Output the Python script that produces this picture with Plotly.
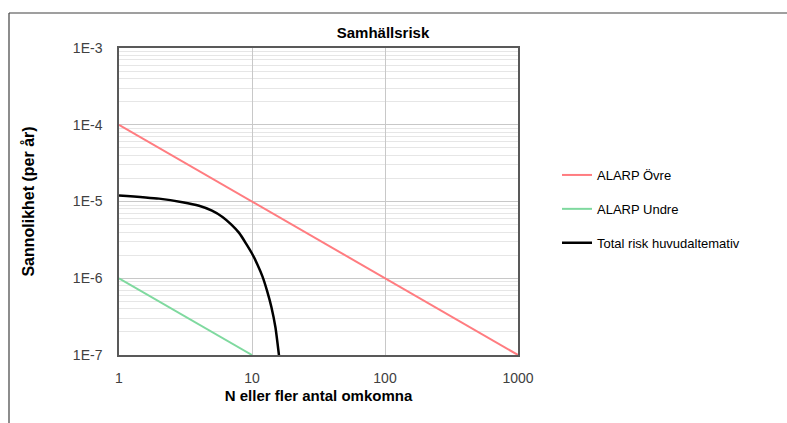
import plotly.graph_objects as go

# Antal omkomna (N) och frekvens per år (F) för varje kurva
n_alarp = [1, 1000]
f_alarp_ovre = [1e-4, 1e-7]
n_alarp_undre = [1, 10]
f_alarp_undre = [1e-6, 1e-7]

n_total = [1, 2, 3, 4, 5, 6, 7, 8, 9, 10, 11, 12, 13, 14, 15, 16]
f_total = [1.2e-5, 1.09e-5, 9.8e-6, 8.8e-6, 7.6e-6, 6.3e-6, 5.0e-6, 3.9e-6,
           2.85e-6, 2.1e-6, 1.5e-6, 1.05e-6, 6.8e-7, 4.2e-7, 2.3e-7, 9.5e-8]

x_tickvals = [1, 10, 100, 1000]
x_ticktext = ["1", "10", "100", "1000"]
y_tickvals = [1e-7, 1e-6, 1e-5, 1e-4, 1e-3]
y_ticktext = ["1E-7", "1E-6", "1E-5", "1E-4", "1E-3"]

FONT = "Liberation Sans, Arial, sans-serif"

fig = go.Figure()
fig.add_trace(go.Scatter(x=n_alarp, y=f_alarp_ovre, mode="lines", name="ALARP Övre",
                         legendgroup="a", line=dict(color="#ff7c80", width=2)))
fig.add_trace(go.Scatter(x=n_alarp_undre, y=f_alarp_undre, mode="lines", name="ALARP Undre",
                         legendgroup="b", line=dict(color="#7fd99f", width=2)))
fig.add_trace(go.Scatter(x=n_total, y=f_total, mode="lines", name="Total risk huvudaltemativ",
                         legendgroup="c", line=dict(color="#000000", width=2.5, shape="spline", smoothing=0.6)))

W, H = 787, 423
L, R, T, B = 119, 518, 48, 355
pw, ph = R - L, B - T


def px_x(p):
    return (p - L) / pw


def px_y(p):
    return (B - p) / ph


fig.update_layout(
    width=W, height=H,
    margin=dict(l=L, r=W - R, t=T, b=H - B, pad=0),
    paper_bgcolor="white", plot_bgcolor="white",
    font=dict(family=FONT, size=14, color="#404040"),
    title=dict(text="<b>Samhällsrisk</b>", x=383 / W, xanchor="center",
               y=1 - 33 / H, yanchor="middle",
               font=dict(family=FONT, size=15, color="#000000")),
    showlegend=True,
    legend=dict(x=px_x(557), xanchor="left", y=px_y(160), yanchor="top",
                font=dict(family=FONT, size=13, color="#000000"),
                tracegroupgap=14, bgcolor="rgba(0,0,0,0)"),
    xaxis=dict(type="log", range=[0, 3], tickvals=x_tickvals, ticktext=x_ticktext,
               showgrid=True, gridcolor="#c8c8c8", gridwidth=1,
               showline=True, linecolor="#595959", linewidth=1.5, mirror=True,
               ticks="", ticklabelstandoff=9, zeroline=False,
               tickfont=dict(family=FONT, size=14, color="#404040"),
               title=dict(text="<b>N eller fler antal omkomna</b>", standoff=6,
                          font=dict(family=FONT, size=15, color="#000000"))),
    yaxis=dict(type="log", range=[-7, -3], tickvals=y_tickvals, ticktext=y_ticktext,
               showgrid=True, gridcolor="#c8c8c8", gridwidth=1,
               minor=dict(dtick="D1", showgrid=True, gridcolor="#e6e6e6", gridwidth=1, ticks=""),
               showline=True, linecolor="#595959", linewidth=1.5, mirror=True,
               ticks="", ticklabelstandoff=12, zeroline=False,
               tickfont=dict(family=FONT, size=14, color="#404040"),
               title=dict(text="<b>Sannolikhet (per år)</b>", standoff=34,
                          font=dict(family=FONT, size=16, color="#000000"))),
)

# Ram runt diagramytan (övre och vänstra kanten)
frame = dict(type="line", xref="paper", yref="paper", line=dict(color="#404040", width=1.2))
fig.add_shape(**frame, x0=px_x(9), x1=px_x(W + 5), y0=px_y(13), y1=px_y(13))
fig.add_shape(**frame, x0=px_x(9), x1=px_x(9), y0=px_y(13), y1=px_y(H + 5))

fig.write_html("out.html")
